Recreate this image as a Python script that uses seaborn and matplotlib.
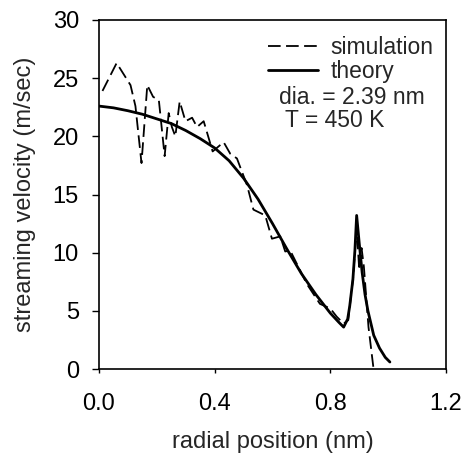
import matplotlib
matplotlib.use("Agg")
import matplotlib.pyplot as plt
import seaborn as sns
import pandas as pd
from matplotlib.lines import Line2D

# Theory curve
theory_x = [0.0, 0.05, 0.10, 0.15, 0.20, 0.25, 0.30, 0.35, 0.40, 0.45, 0.50,
            0.55, 0.60, 0.65, 0.70, 0.75, 0.80, 0.83, 0.846, 0.86, 0.867, 0.878,
            0.885, 0.891, 0.90, 0.91, 0.92, 0.93, 0.95, 0.97, 0.99, 1.006]
theory_y = [22.6, 22.45, 22.2, 21.9, 21.5, 21.1, 20.5, 19.8, 19.0, 17.9, 16.4,
            14.6, 12.5, 10.3, 8.2, 6.4, 4.8, 4.0, 3.6, 4.3, 5.4, 7.7,
            10.2, 13.2, 10.8, 8.3, 6.4, 5.0, 2.9, 1.8, 1.0, 0.6]

# Simulation curve
sim_x = [0.012, 0.061, 0.109, 0.126, 0.147, 0.167, 0.187, 0.207, 0.227, 0.241,
         0.252, 0.264, 0.279, 0.299, 0.322, 0.339, 0.362, 0.393, 0.431, 0.454,
         0.477, 0.512, 0.534, 0.575, 0.598, 0.627, 0.644, 0.661, 0.719, 0.764,
         0.80, 0.822, 0.846, 0.862, 0.879, 0.891, 0.90, 0.908, 0.916, 0.932, 0.949]
sim_y = [23.9, 26.3, 24.4, 22.6, 17.7, 24.4, 23.4, 23.1, 18.3, 22.0,
         20.8, 20.0, 23.0, 21.3, 21.6, 20.8, 21.3, 18.7, 19.5, 18.5,
         18.1, 15.8, 13.7, 13.2, 11.2, 11.4, 10.1, 10.2, 7.3, 5.6,
         5.2, 4.5, 3.9, 4.2, 7.9, 12.2, 8.5, 10.4, 8.8, 3.6, 0.1]

x_ticks = [0.0, 0.4, 0.8, 1.2]
x_ticklabels = ["0.0", "0.4", "0.8", "1.2"]
y_ticks = [0, 5, 10, 15, 20, 25, 30]

sns.set_style("ticks")
plt.rcParams['font.family'] = ['Liberation Sans', 'DejaVu Sans']

fig = plt.figure(figsize=(4.64, 4.57), dpi=100)
ax = fig.add_axes([99/464, 88/457, (446-99)/464, (369-20)/457])

df_t = pd.DataFrame({"x": theory_x, "y": theory_y})
df_s = pd.DataFrame({"x": sim_x, "y": sim_y})

dash = (0, (7, 3))
sns.lineplot(data=df_s, x="x", y="y", ax=ax, color="black", linewidth=1.3,
             sort=False, linestyle=dash)
sns.lineplot(data=df_t, x="x", y="y", ax=ax, color="black", linewidth=2.0, sort=False)

ax.set_xlim(0, 1.2)
ax.set_ylim(0, 30)
ax.set_xticks(x_ticks)
ax.set_xticklabels(x_ticklabels)
ax.set_yticks(y_ticks)
fs = 17
ax.tick_params(axis="x", labelsize=fs, direction="out", length=3, width=1,
               colors="black", pad=14)
ax.tick_params(axis="y", labelsize=fs, direction="out", length=5, width=1,
               colors="black", pad=9.5)
ax.set_xlabel("radial position (nm)", fontsize=fs, labelpad=12)
ax.set_ylabel("streaming velocity (m/sec)", fontsize=fs, labelpad=12)
for s in ax.spines.values():
    s.set_visible(True)
    s.set_linewidth(1.2)
    s.set_color("black")

lfs = 16.5
handles = [Line2D([], [], color="black", lw=1.3, linestyle=dash),
           Line2D([], [], color="black", lw=2.0)]
leg = ax.legend(handles, ["simulation", "theory"], loc="upper left",
                bbox_to_anchor=(0.44, 1.0), frameon=False, fontsize=lfs,
                handlelength=2.2, handletextpad=0.55, labelspacing=0.05,
                borderpad=0.2)
ax.text(0.73, 0.779, "dia. = 2.39 nm", transform=ax.transAxes, ha="center",
        va="center", fontsize=lfs)
ax.text(0.68, 0.713, "T = 450 K", transform=ax.transAxes, ha="center",
        va="center", fontsize=lfs)

fig.savefig("out.png", dpi=100)
